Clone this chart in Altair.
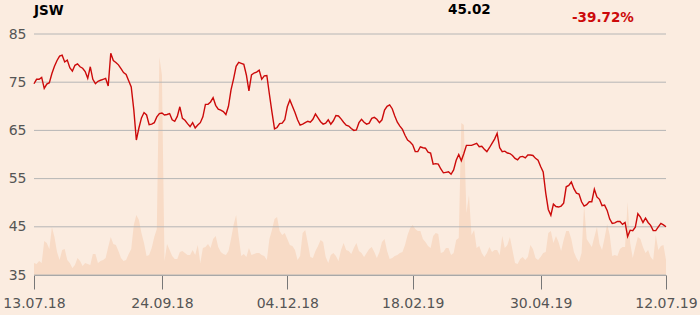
import altair as alt
import pandas as pd

ticker = "JSW"
tick_days = [0, 50, 99, 148, 198, 247]
tick_labels = ["13.07.18", "24.09.18", "04.12.18", "18.02.19", "30.04.19", "12.07.19"]
y_ticks = [35, 45, 55, 65, 75, 85]

prices = [
    74.68, 75.6, 75.6, 76.0, 73.7, 74.6, 74.9, 76.8, 78.3, 79.5,
    80.4, 80.6, 79.2, 79.6, 78.0, 77.3, 78.5, 78.8, 78.2, 77.9,
    77.2, 75.8, 78.2, 75.6, 74.7, 75.2, 75.4, 75.6, 75.8, 74.2,
    81.0, 79.5, 79.1, 78.6, 77.8, 77.0, 76.6, 75.3, 74.0, 69.3,
    63.0, 65.5, 67.6, 68.7, 68.2, 66.2, 66.3, 66.6, 67.8, 68.5,
    68.6, 68.2, 68.3, 68.5, 67.2, 66.9, 67.9, 69.9, 67.5, 67.1,
    66.4, 65.8, 66.6, 65.5, 66.1, 66.6, 67.8, 70.4, 70.4, 70.9,
    71.8, 70.2, 69.4, 69.2, 68.9, 68.3, 70.0, 73.4, 75.7, 78.3,
    79.1, 78.9, 78.7, 76.5, 73.2, 76.5, 76.9, 77.1, 77.5, 75.6,
    76.3, 76.4, 72.5, 68.8, 65.3, 65.6, 66.4, 66.5, 67.2, 69.9,
    71.3, 70.0, 68.7, 67.2, 66.1, 66.3, 66.6, 66.9, 66.7, 67.3,
    68.4, 67.6, 66.8, 66.3, 66.5, 67.2, 66.3, 67.0, 68.1, 68.0,
    67.4, 66.7, 66.1, 65.9, 65.4, 65.0, 65.1, 66.6, 67.3, 66.7,
    66.3, 66.5, 67.5, 67.7, 67.3, 66.6, 67.2, 69.2, 70.0, 70.3,
    69.5, 68.0, 66.7, 65.9, 65.2, 64.0, 63.0, 62.6, 62.0, 60.6,
    60.6, 61.6, 61.4, 61.3, 60.5, 60.3, 58.0, 58.1, 58.0, 57.0,
    56.2, 56.3, 56.4, 55.9, 56.8, 58.8, 60.0, 58.7, 60.2, 61.9,
    61.9, 61.9, 62.1, 62.3, 61.6, 61.7, 61.1, 60.6, 61.4, 62.3,
    63.2, 64.4, 61.4, 60.6, 60.7, 60.3, 60.2, 59.8, 59.2, 58.9,
    59.5, 59.6, 59.3, 59.9, 59.9, 59.8, 59.2, 58.8, 57.5, 56.4,
    52.0, 48.6, 47.4, 49.7, 49.2, 49.1, 49.3, 49.9, 53.3, 53.6,
    54.3, 52.9, 52.0, 51.8, 50.2, 49.3, 49.6, 50.2, 50.2, 52.8,
    51.2, 50.7, 49.4, 49.5, 48.4, 46.6, 45.7, 45.8, 46.1, 46.1,
    45.5, 45.9, 43.0, 44.3, 44.2, 44.9, 47.7, 47.0, 45.9, 46.8,
    45.9, 45.3, 44.2, 44.2, 45.0, 45.7, 45.4, 45.02,
]

volumes = [
    12, 11, 14, 12, 34, 32, 26, 48, 38, 23,
    15, 25, 26, 15, 12, 7, 10, 17, 14, 9,
    12, 11, 10, 21, 21, 12, 14, 15, 17, 28,
    38, 31, 30, 24, 17, 14, 15, 21, 26, 50,
    60, 55, 42, 32, 19, 20, 27, 38, 46, 218,
    200, 14, 31, 25, 19, 16, 16, 23, 24, 22,
    20, 20, 25, 20, 30, 12, 27, 28, 31, 27,
    36, 39, 28, 23, 21, 20, 24, 36, 50, 60,
    38, 19, 21, 18, 27, 20, 21, 22, 22, 20,
    19, 15, 36, 45, 56, 58, 44, 40, 42, 36,
    30, 29, 25, 15, 19, 42, 45, 32, 18, 17,
    24, 29, 35, 33, 18, 12, 20, 22, 19, 14,
    25, 32, 25, 24, 21, 27, 32, 24, 22, 18,
    22, 26, 28, 23, 17, 23, 33, 36, 24, 16,
    17, 19, 20, 22, 23, 30, 40, 47, 50, 46,
    44, 44, 36, 33, 29, 27, 39, 42, 41, 22,
    23, 27, 27, 20, 22, 35, 37, 152, 150, 62,
    80, 40, 45, 27, 29, 22, 18, 22, 28, 23,
    25, 25, 20, 39, 27, 30, 38, 25, 12, 11,
    16, 18, 15, 18, 30, 26, 17, 15, 18, 22,
    23, 42, 44, 32, 39, 33, 24, 35, 44, 44,
    36, 23, 17, 13, 22, 70, 36, 32, 28, 38,
    48, 31, 25, 37, 51, 40, 19, 20, 19, 26,
    28, 28, 73, 32, 17, 28, 38, 36, 28, 22,
    25, 18, 15, 40, 25, 29, 30, 15,
]

df = pd.DataFrame({"day": list(range(len(prices))), "price": prices, "volume": volumes})
grid_df = pd.DataFrame({"level": y_ticks})
last = prices[-1]
change = (prices[-1] / prices[0] - 1) * 100
head_df = pd.DataFrame({"name": [ticker], "last": [f"{last:.2f}"], "change": [f"{change:.2f}%"]})

label_expr = "''"
for d, l in reversed(list(zip(tick_days, tick_labels))):
    label_expr = f"datum.value == {d} ? '{l}' : ({label_expr})"

FONT = "DejaVu Sans"

x_enc = alt.X(
    "day:Q",
    scale=alt.Scale(domain=[0, len(prices) - 1], nice=False, zero=False),
    axis=alt.Axis(
        values=tick_days, labelExpr=label_expr, grid=False, title=None,
        tickSize=14, tickColor="#777777", domainColor="#9a9a9a",
        labelFont=FONT, labelFontSize=14, labelColor="#555555",
        labelPadding=7, labelFlush=False, labelOverlap=False,
    ),
)

area = alt.Chart(df).mark_area(color="#f8dbc6", opacity=1, interpolate="linear").encode(
    x=x_enc,
    y=alt.Y("volume:Q", scale=alt.Scale(domain=[0, 241], nice=False), axis=None),
)

rules = alt.Chart(grid_df).mark_rule(color="#b6b6b6", strokeWidth=1).encode(
    y=alt.Y(
        "level:Q",
        scale=alt.Scale(domain=[35, 85], nice=False, zero=False),
        axis=alt.Axis(
            values=y_ticks, grid=False, ticks=False, domain=False, title=None,
            orient="left", labelFont=FONT, labelFontSize=14, labelColor="#555555",
            labelPadding=8,
        ),
    ),
)

line = alt.Chart(df).mark_line(color="#cc0a0a", strokeWidth=1.4).encode(
    x=x_enc,
    y=alt.Y("price:Q", scale=alt.Scale(domain=[35, 85], nice=False, zero=False), axis=None),
)

t_name = alt.Chart(head_df).mark_text(
    align="left", baseline="alphabetic", font=FONT, fontWeight="bold", fontSize=13.5, color="#000000"
).encode(x=alt.value(0), y=alt.value(-19), text="name:N")

t_last = alt.Chart(head_df).mark_text(
    align="left", baseline="alphabetic", font=FONT, fontWeight="bold", fontSize=13.5, color="#000000"
).encode(x=alt.value(414), y=alt.value(-20), text="last:N")

t_change = alt.Chart(head_df).mark_text(
    align="left", baseline="alphabetic", font=FONT, fontWeight="bold", fontSize=13.5, color="#cc0a0a"
).encode(x=alt.value(538), y=alt.value(-12.5), text="change:N")

chart = alt.layer(area, rules, line, t_name, t_last, t_change).resolve_scale(
    y="independent"
).properties(
    width=632, height=241,
    padding={"left": 34, "top": 34, "right": 34, "bottom": 40},
    autosize=alt.AutoSizeParams(type="none"),
    background="#fbece0",
).configure_view(strokeWidth=0)

chart.save("out.html", embed_options={"renderer": "svg", "actions": False})
